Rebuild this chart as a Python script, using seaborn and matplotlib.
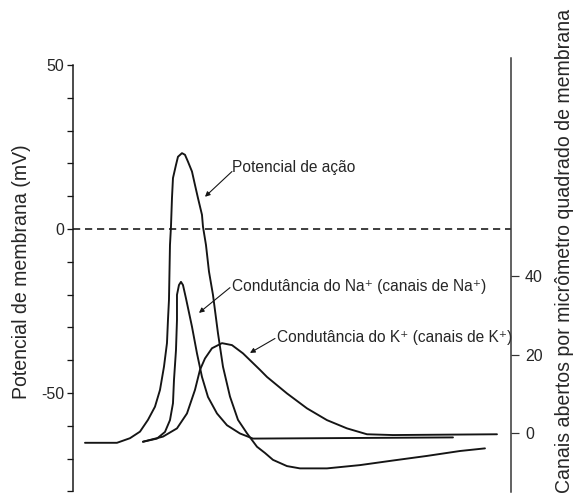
import matplotlib
matplotlib.use("Agg")
import matplotlib.pyplot as plt
import seaborn as sns

# time (ms) and membrane potential (mV)
ap_t = [0.12, 0.44, 0.57, 0.67, 0.75, 0.82, 0.87, 0.91, 0.94, 0.95, 0.96, 0.97, 0.98,
        0.99, 1.00, 1.03, 1.05, 1.09, 1.12, 1.15, 1.19, 1.22, 1.25, 1.29, 1.30, 1.33,
        1.36, 1.40, 1.45, 1.50, 1.57, 1.65, 1.74, 1.84, 1.92, 2.00, 2.14, 2.27, 2.54,
        2.87, 3.20, 3.54, 3.87, 4.12]
ap_v = [-65.2, -65.2, -63.8, -61.8, -58.2, -54.2, -49.1, -42.0, -34.8, -27.7, -21.6, -4.9, 0.7,
        9.4, 15.5, 19.5, 22.0, 23.1, 22.6, 20.5, 17.5, 13.4, 9.4, 4.3, 0.7, -4.9,
        -13.0, -20.1, -31.8, -42.0, -51.1, -58.2, -62.3, -66.4, -68.3, -70.4, -72.3, -73.0, -73.0,
        -72.0, -70.6, -69.2, -67.7, -66.9]

# Na+ conductance (open channels per um2)
na_t = [0.70, 0.84, 0.92, 0.97, 1.00, 1.01, 1.03, 1.04, 1.04, 1.06, 1.08, 1.10, 1.13,
        1.19, 1.24, 1.29, 1.35, 1.44, 1.54, 1.67, 1.80, 3.80]
na_c = [-2.2, -1.4, 0.3, 3.3, 7.6, 13.5, 21.1, 28.8, 35.2, 37.7, 38.5, 37.7, 34.3,
        27.1, 20.3, 14.3, 9.2, 5.0, 2.0, -0.1, -1.4, -1.1]

# K+ conductance
k_t = [0.70, 0.90, 1.04, 1.14, 1.22, 1.27, 1.32, 1.39, 1.49, 1.59, 1.70, 1.87, 1.94,
       2.14, 2.34, 2.54, 2.74, 2.94, 3.20, 4.24]
k_c = [-2.2, -0.9, 1.2, 5.0, 11.0, 16.1, 19.0, 21.6, 22.9, 22.4, 20.3, 16.1, 14.3,
       10.1, 6.3, 3.3, 1.2, -0.3, -0.5, -0.3]

left_ticks = [50, 0, -50]
right_ticks = [0, 20, 40]

sns.set_style("white")
fam = ["Liberation Sans", "DejaVu Sans"]
plt.rcParams["font.family"] = fam
plt.rcParams["axes.unicode_minus"] = False

ink = "#151515"
fig = plt.figure(figsize=(8, 7), dpi=72)
ax = fig.add_axes([0.1267, 0.0238, 0.7604, 0.8611])
ax2 = ax.twinx()

line_kw = dict(sort=False, estimator=None, color=ink, lw=1.9,
               solid_joinstyle="round", solid_capstyle="round")
sns.lineplot(x=ap_t, y=ap_v, ax=ax, **line_kw)
sns.lineplot(x=na_t, y=na_c, ax=ax2, **line_kw)
sns.lineplot(x=k_t, y=k_c, ax=ax2, **line_kw)
ax.axhline(0, color=ink, lw=1.6, ls=(0, (4.5, 3)))

ax.set_xlim(0, 4.38)
ax.set_ylim(-80.2, 52.1)
ax2.set_ylim(-15.0, 95.5)

for a in (ax, ax2):
    a.spines["top"].set_visible(False)
    a.spines["bottom"].set_visible(False)
    a.set_xticks([])
    a.set_xlabel("")
ax.spines["right"].set_visible(False)
ax2.spines["left"].set_visible(False)
ax.spines["left"].set_bounds(-80, 50)
ax.spines["left"].set_linewidth(1.5)
ax.spines["left"].set_color(ink)
ax2.spines["right"].set_linewidth(1.5)
ax2.spines["right"].set_color("#333333")

ax.set_yticks(left_ticks)
ax.set_yticklabels([str(v) for v in left_ticks])
ax.set_yticks(range(-80, 51, 10), minor=True)
ax.tick_params(axis="y", which="both", direction="out", length=6, width=1.3,
               color=ink, labelsize=16, pad=3, left=True)
ax2.set_yticks(right_ticks)
ax2.set_yticklabels([str(v) for v in right_ticks])
ax2.tick_params(axis="y", direction="out", length=8, width=1.2, color="#333333",
                labelsize=16, pad=6, right=True)
ax.set_ylabel("")
ax2.set_ylabel("")

fs = 15.5
ax.text(1.59, 18.6, "Potencial de ação", fontsize=fs, va="center", ha="left")
ax.text(1.59, -17.7, "Condutância do Na⁺ (canais de Na⁺)", fontsize=fs, va="center", ha="left")
ax.text(2.04, -33.2, "Condutância do K⁺ (canais de K⁺)", fontsize=fs, va="center", ha="left")

arrow = dict(arrowstyle="-|>", color=ink, lw=1.1, mutation_scale=10, shrinkA=0, shrinkB=0)
ax.annotate("", xy=(1.32, 9.8), xytext=(1.59, 17.5), arrowprops=arrow)
ax.annotate("", xy=(1.26, -25.6), xytext=(1.57, -17.9), arrowprops=arrow)
ax.annotate("", xy=(1.77, -37.8), xytext=(2.02, -33.4), arrowprops=arrow)

fig.text(22 / 576, 1 - 272 / 504, "Potencial de membrana (mV)", rotation=90,
         ha="center", va="center", fontsize=19.5)
fig.text(565 / 576, 1 - 251 / 504, "Canais abertos por micrômetro quadrado de membrana",
         rotation=90, ha="center", va="center", fontsize=19.5)

fig.savefig("out.png", dpi=72)
